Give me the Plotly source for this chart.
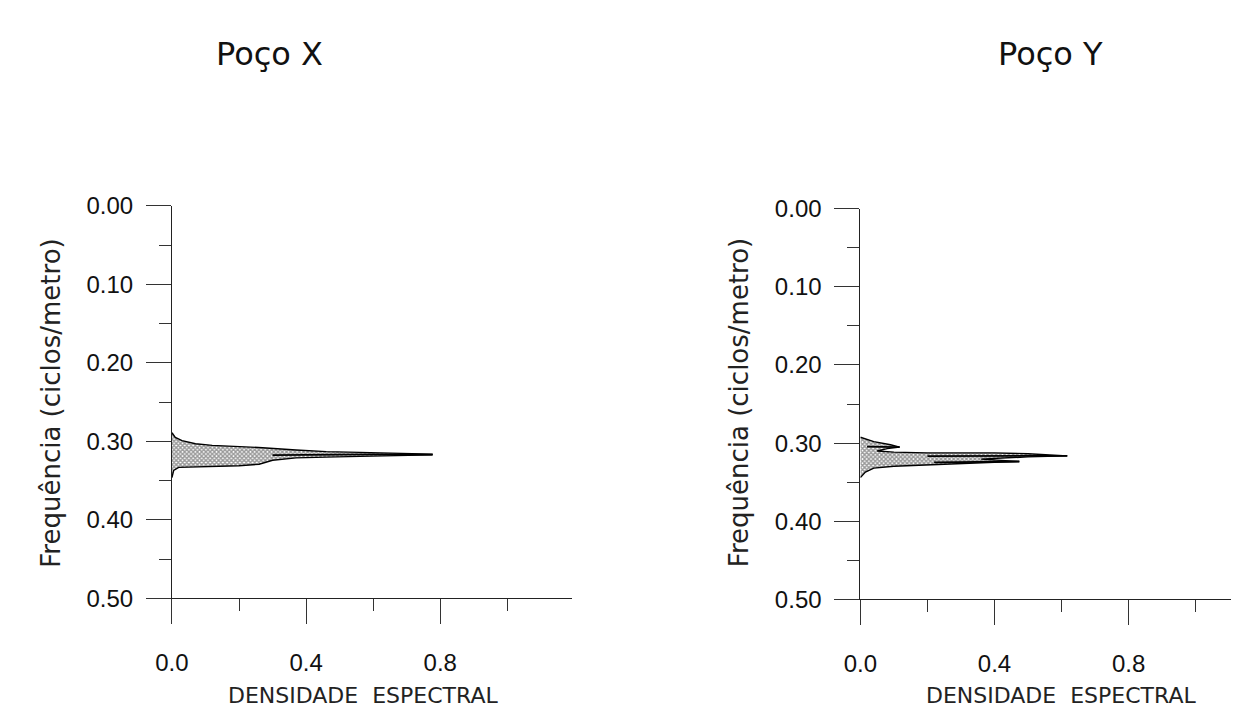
import plotly.graph_objects as go

W, H = 1239, 718

# ---------------- data ----------------
# Poço X : envelope of spectral density (x) vs frequency (y)
x_dens_upper = [0.0, 0.01, 0.03, 0.07, 0.12, 0.17, 0.27, 0.37, 0.46, 0.56, 0.65, 0.72, 0.776]
x_freq_upper = [0.289, 0.295, 0.299, 0.303, 0.305, 0.306, 0.308, 0.311, 0.313, 0.314, 0.315, 0.316, 0.3162]
x_dens_lower = [0.776, 0.70, 0.65, 0.56, 0.46, 0.37, 0.30, 0.26, 0.20, 0.12, 0.06, 0.02, 0.005, 0.0]
x_freq_lower = [0.3172, 0.3176, 0.318, 0.319, 0.320, 0.321, 0.324, 0.329, 0.331, 0.332, 0.332, 0.333, 0.337, 0.346]
x_ridge_dens = [0.30, 0.45, 0.60, 0.776]
x_ridge_freq = [0.3175, 0.3168, 0.3166, 0.3167]

# Poço Y
y_dens_outline = [0.0, 0.04, 0.09, 0.117, 0.08, 0.05, 0.10, 0.20, 0.30, 0.40, 0.50, 0.56, 0.617,
                  0.50, 0.42, 0.36, 0.42, 0.474, 0.40, 0.33, 0.28, 0.20, 0.10, 0.04, 0.015, 0.0]
y_freq_outline = [0.2925, 0.298, 0.302, 0.305, 0.307, 0.310, 0.3115, 0.3125, 0.3125, 0.3125, 0.3135, 0.3148, 0.3163,
                  0.3175, 0.319, 0.3205, 0.322, 0.3235, 0.3245, 0.3255, 0.327, 0.328, 0.3295, 0.332, 0.337, 0.344]
y_ridge1_dens = [0.20, 0.40, 0.617]
y_ridge1_freq = [0.3165, 0.3162, 0.3163]
y_ridge2_dens = [0.22, 0.35, 0.474]
y_ridge2_freq = [0.3245, 0.3238, 0.3235]
y_ridge3_dens = [0.02, 0.117]
y_ridge3_freq = [0.3045, 0.305]

titles = ["Poço X", "Poço Y"]
y_title = "Frequência (ciclos/metro)"
x_title = "DENSIDADE  ESPECTRAL"
y_ticks = [0.0, 0.1, 0.2, 0.3, 0.4, 0.5]
x_ticks = [0.0, 0.4, 0.8]
x_minor = [0.2, 0.6, 1.0]

# ---------------- figure ----------------
fig = go.Figure()

pattern = dict(shape="x", size=3, solidity=0.7, fgcolor="#333333", bgcolor="#ffffff")
outline = dict(color="#000000", width=1.4)

fig.add_trace(go.Scatter(
    x=x_dens_upper + x_dens_lower, y=x_freq_upper + x_freq_lower,
    xaxis="x", yaxis="y", mode="lines", fill="toself", fillpattern=pattern,
    line=outline, showlegend=False, hoverinfo="skip"))
fig.add_trace(go.Scatter(x=x_ridge_dens, y=x_ridge_freq, xaxis="x", yaxis="y", mode="lines",
                         line=dict(color="#000000", width=1.8), showlegend=False, hoverinfo="skip"))

fig.add_trace(go.Scatter(
    x=y_dens_outline, y=y_freq_outline,
    xaxis="x2", yaxis="y2", mode="lines", fill="toself", fillpattern=pattern,
    line=outline, showlegend=False, hoverinfo="skip"))
for dd, ff in [(y_ridge1_dens, y_ridge1_freq), (y_ridge2_dens, y_ridge2_freq), (y_ridge3_dens, y_ridge3_freq)]:
    fig.add_trace(go.Scatter(x=dd, y=ff, xaxis="x2", yaxis="y2", mode="lines",
                             line=dict(color="#000000", width=1.8), showlegend=False, hoverinfo="skip"))

tickfont = dict(family="Liberation Sans, Arial, sans-serif", size=24, color="#111111")
title_font = "DejaVu Sans, sans-serif"

def xaxis_cfg(domain, rng, anchor):
    return dict(domain=domain, range=rng, anchor=anchor, showline=True, linecolor="#222222", linewidth=1,
                showgrid=False, zeroline=False, tickmode="array", tickvals=x_ticks, tickformat=".1f",
                ticks="outside", ticklen=25, tickcolor="#333333", tickwidth=1, tickfont=tickfont,
                ticklabelstandoff=18,
                minor=dict(tickmode="array", tickvals=x_minor, ticks="outside", ticklen=12,
                           tickcolor="#333333", tickwidth=1, showgrid=False))

def yaxis_cfg(domain, anchor):
    return dict(domain=domain, range=[0.5, 0.0], anchor=anchor, showline=True, linecolor="#222222",
                linewidth=1, showgrid=False, zeroline=False, tickmode="array", tickvals=y_ticks,
                tickformat=".2f", ticks="outside", ticklen=25, tickcolor="#333333", tickwidth=1,
                tickfont=tickfont, ticklabelstandoff=8,
                minor=dict(dtick=0.05, ticks="outside", ticklen=12, tickcolor="#333333",
                           tickwidth=1, showgrid=False))

fig.update_layout(
    width=W, height=H, margin=dict(l=0, r=0, t=0, b=0),
    paper_bgcolor="white", plot_bgcolor="white",
    xaxis=xaxis_cfg([149 / W, 555 / W], [0, 1.194], "y"),
    yaxis=yaxis_cfg([1 - 599 / H, 1 - 191 / H], "x"),
    xaxis2=xaxis_cfg([847 / W, 1.0], [0, 1.153], "y2"),
    yaxis2=yaxis_cfg([1 - 600 / H, 1 - 194 / H], "x2"),
)

ann = []
for t, cx in zip(titles, [248, 1040]):
    ann.append(dict(text=t, x=cx / W, y=1 - 33 / H, xref="paper", yref="paper", showarrow=False,
                    xanchor="center", yanchor="middle",
                    font=dict(family=title_font, size=32, color="#111111")))
for cx in [26, 724]:
    ann.append(dict(text=y_title, x=cx / W, y=1 - 396 / H, xref="paper", yref="paper", showarrow=False,
                    xanchor="center", yanchor="middle", textangle=-90,
                    font=dict(family=title_font, size=26, color="#222222")))
for cx in [343, 1050]:
    ann.append(dict(text=x_title, x=cx / W, y=1 - 700 / H, xref="paper", yref="paper", showarrow=False,
                    xanchor="center", yanchor="middle",
                    font=dict(family=title_font, size=22, color="#222222")))
fig.update_layout(annotations=ann)

fig.write_html("out.html")
